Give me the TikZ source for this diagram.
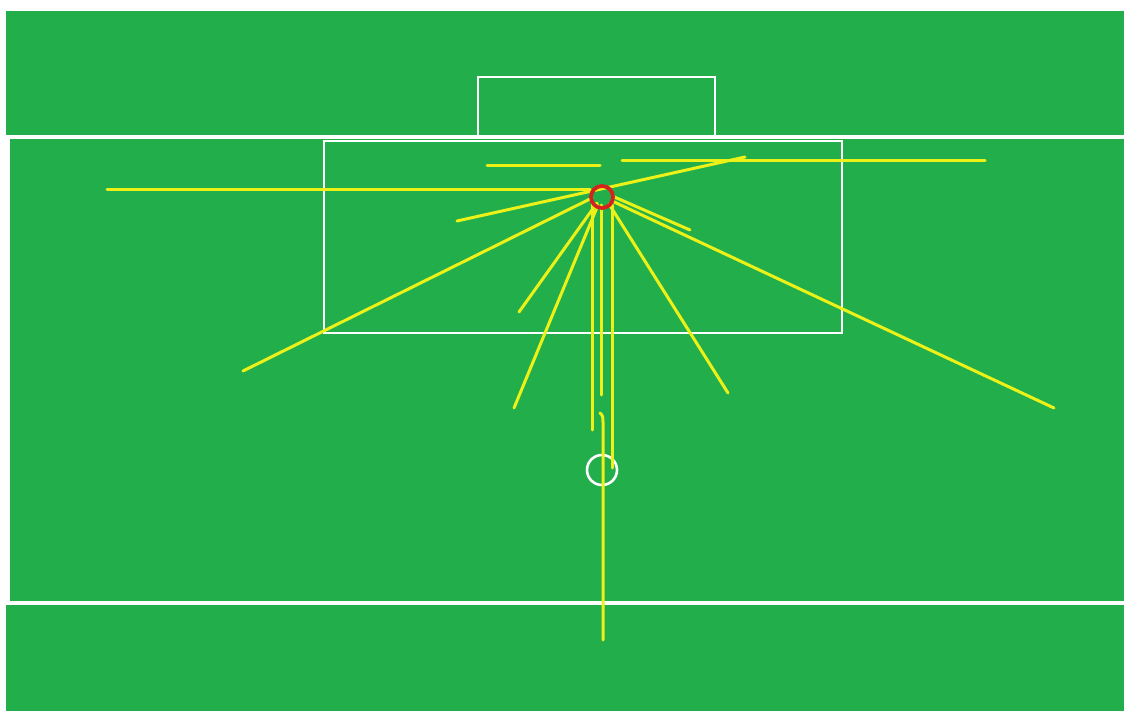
\documentclass[tikz,border=0pt]{standalone}
\begin{document}
\begin{tikzpicture}[x=1pt,y=-1pt,
  pitchline/.style={draw=white,line width=4.5pt},
  boxline/.style={draw=white,line width=2.8pt},
  shot/.style={draw=shotyellow,line width=3pt,line cap=round},
  ballring/.style={draw=white,line width=2.6pt},
  shooter/.style={draw=shooterred,line width=3.8pt}]
\definecolor{pitchgreen}{RGB}{35,174,76}
\definecolor{shotyellow}{RGB}{236,242,24}
\definecolor{shooterred}{RGB}{212,34,30}
\useasboundingbox (0,0) rectangle (1124,711);
\fill[white] (0,0) rectangle (1124,711);
\fill[pitchgreen] (6,11) rectangle (1124,711);
% pitch markings
\coordinate (tl1) at (6,137); \coordinate (tr1) at (1124,137);
\coordinate (tl2) at (6,603); \coordinate (tr2) at (1124,603);
\draw[pitchline] (tl1) -- (tr1);
\draw[pitchline] (tl2) -- (tr2);
\draw[draw=white,line width=4pt] (8,137) -- (8,603);
\draw[boxline] (478,137) -- (478,77) -- (715,77) -- (715,137);
\draw[boxline] (324,141) rectangle (842,333);
\draw[ballring] (602,470) circle[radius=15];
% shots
\coordinate (c) at (602,197);
\draw[shot] (107,190) -- (590,190);
\draw[shot] (457,221) -- (745,157);
\draw[shot] (487,166) -- (600,166);
\draw[shot] (622,161) -- (985,161);
\draw[shot] (243,371) -- (592,198);
\draw[shot] (519,312) -- (597,203);
\draw[shot] (514,408) -- (598,205);
\draw[shot] (592,430) -- (592,202);
\draw[shot] (601,395) -- (601,205);
\draw[shot] (612,468) -- (612,205);
\draw[shot] (600,413) .. controls (603,416) .. (603,425) -- (603,640);
\draw[shot] (609,204) -- (728,393);
\draw[shot] (612,201) -- (1054,408);
\draw[shot] (612,196) -- (690,230);
% shooter
\draw[shooter] (c) circle[radius=11];
\end{tikzpicture}
\end{document}
